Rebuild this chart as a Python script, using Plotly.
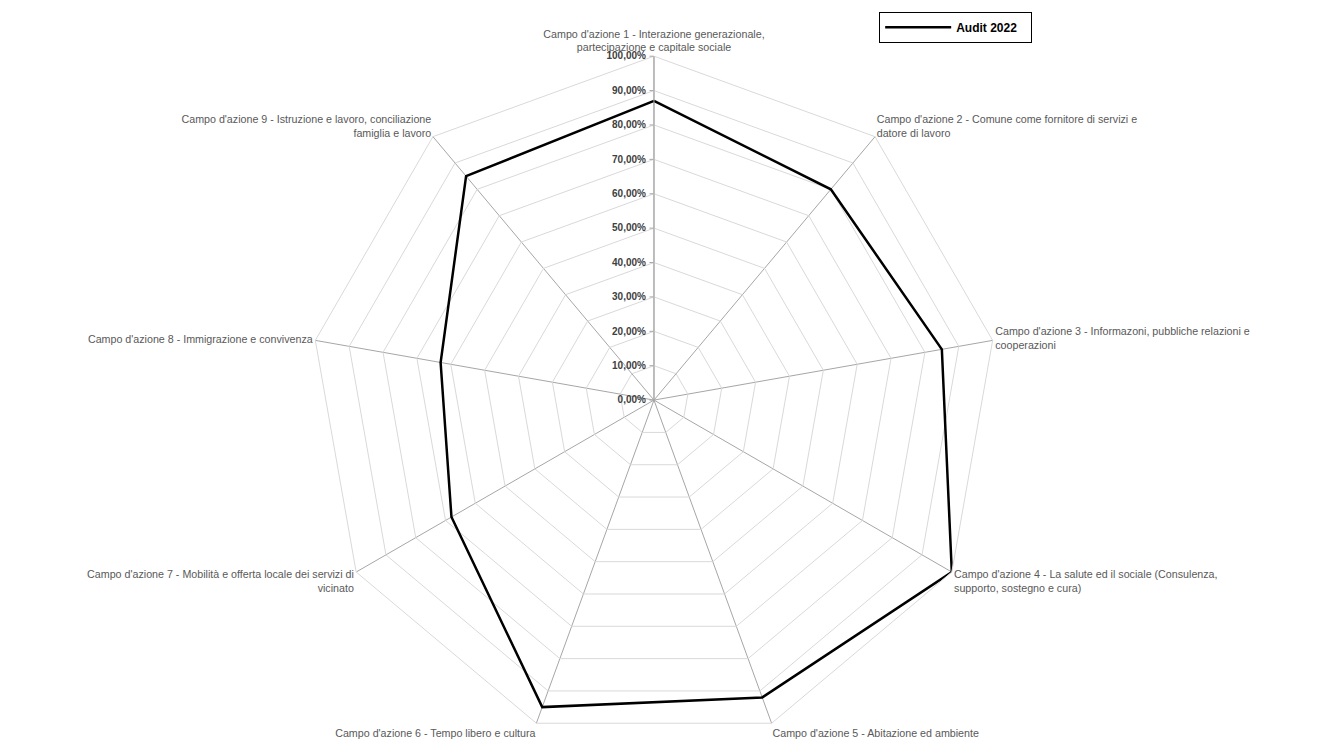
import plotly.graph_objects as go

categories = [
    "Campo d'azione 1 - Interazione generazionale,<br>partecipazione e capitale sociale",
    "Campo d'azione 2 - Comune come fornitore di servizi e<br>datore di lavoro",
    "Campo d'azione 3 - Informazoni, pubbliche relazioni e<br>cooperazioni",
    "Campo d'azione 4 - La salute ed il sociale (Consulenza,<br>supporto, sostegno e cura)",
    "Campo d'azione 5 - Abitazione ed ambiente",
    "Campo d'azione 6 - Tempo libero e cultura",
    "Campo d'azione 7 - Mobilità e offerta locale dei servizi di<br>vicinato",
    "Campo d'azione 8 - Immigrazione e convivenza",
    "Campo d'azione 9 - Istruzione e lavoro, conciliazione<br>famiglia e lavoro",
]
audit_2022 = [0.87, 0.80, 0.85, 1.00, 0.92, 0.95, 0.68, 0.63, 0.85]
series_name = "Audit 2022"

fig = go.Figure()
fig.add_trace(go.Scatterpolar(
    r=audit_2022 + audit_2022[:1],
    theta=categories + categories[:1],
    mode="lines",
    name=series_name,
    line=dict(color="black", width=2.5),
))

font_family = "Liberation Sans, Arial, sans-serif"

fig.update_layout(
    width=1327, height=745,
    margin=dict(l=0, r=0, t=0, b=0),
    paper_bgcolor="white",
    separators=",.",
    font=dict(family=font_family, size=10.7, color="#595959"),
    showlegend=True,
    legend=dict(
        x=0.6565, y=0.995, xanchor="left", yanchor="top",
        orientation="h", entrywidth=70, entrywidthmode="pixels",
        itemwidth=66,
        bordercolor="black", borderwidth=1,
        font=dict(family=font_family, size=12, color="black", weight="bold"),
        bgcolor="white",
    ),
    polar=dict(
        domain=dict(x=[0.2276, 0.746], y=[0.0121, 0.9353]),
        gridshape="linear",
        bgcolor="white",
        angularaxis=dict(
            rotation=90, direction="clockwise",
            gridcolor="#a6a6a6", gridwidth=1,
            linecolor="#d9d9d9", linewidth=1, showline=True,
            ticks="",
            tickfont=dict(family=font_family, size=10.7, color="#595959"),
        ),
        radialaxis=dict(
            range=[0, 1], dtick=0.1, tick0=0,
            tickformat=".2%", tickangle=90,
            angle=90, side="counterclockwise",
            gridcolor="#d9d9d9", gridwidth=1,
            showline=True, linecolor="#a6a6a6", linewidth=1,
            ticks="outside", ticklen=4, tickcolor="#a6a6a6",
            tickfont=dict(family=font_family, size=10, color="#404040", weight="bold"),
        ),
    ),
)

fig.write_html("out.html")
